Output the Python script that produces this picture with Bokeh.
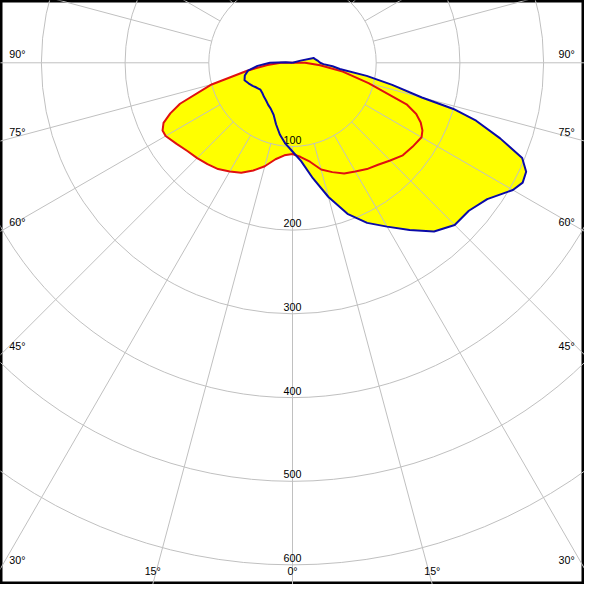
import numpy as np
from bokeh.plotting import figure
from bokeh.models import Range1d
from bokeh.core.properties import value
from bokeh.embed import file_html
from bokeh.resources import INLINE

# ---- data (cd/klm), gamma angle in degrees: 0 = straight down, + = right side
red_angles = [-180, -95, -90, -85, -80, -75, -70, -67.5, -65, -62.5, -60, -55, -50, -45, -40, -35,
              -30, -25, -20, -15, -10, -5, 0, 5, 10, 15, 20, 25, 30, 35, 40, 45, 50,
              55, 60, 62.5, 65, 67.5, 70, 75, 80, 85, 90, 95, 180]
red_values = [0, 0, 14, 30, 55, 100, 143, 158, 170, 175, 175, 169, 164, 161, 158, 155,
              150, 145, 137, 128, 117, 111, 109, 113, 120, 132, 139, 146, 150, 155, 159, 165, 172,
              175, 178, 175, 169, 160, 145, 94, 61, 33, 15, 0, 0]

blue_angles = [-180, -95, -90, -85, -80, -75, -70, -65, -60, -55, -50, -45, -40, -35,
               -30, -25, -20, -15, -10, -5, 0, 5, 10, 15, 20, 25, 30, 35, 40, 45, 50,
               55, 60, 62.5, 65, 67.5, 70, 72.5, 74, 75, 77.5, 80, 82.5, 85, 87.5, 90,
               95, 100, 102.5, 105, 110, 180]
blue_values = [0, 8, 27, 42, 54, 59, 61, 58, 55, 52, 50, 51, 53, 55,
               58, 61, 66, 76, 87, 97, 106, 118, 140, 166, 192, 211, 226, 244, 263, 274, 275,
               284, 304, 310, 308, 297, 264, 230, 200, 160, 122, 90, 57, 48, 37, 33,
               30, 27, 26, 10, 0, 0]

ring_values = [100, 200, 300, 400, 500, 600]
ring_labels = ["100", "200", "300", "400", "500", "600"]
spoke_angles = list(range(0, 360, 15))
side_label_angles = [90, 75, 60, 45, 30]
side_labels = ["90°", "75°", "60°", "45°", "30°"]
bottom_label_angles = [-15, 0, 15]
bottom_labels = ["15°", "0°", "15°"]

# ---- geometry
K = 0.86                      # reference pixels per cd/klm
XMIN, XMAX = -300 / K, 300 / K
YMIN, YMAX = -536 / K, 64 / K
SIZE = 584
FONT = value("Liberation Sans")
FSIZE = value("10.7px")
GRID = "#c0c0c0"


def polar(angles, vals):
    g = np.radians(np.asarray(angles, dtype=float))
    v = np.asarray(vals, dtype=float)
    return v * np.sin(g), -v * np.cos(g)


p = figure(width=SIZE, height=SIZE, x_range=Range1d(XMIN, XMAX), y_range=Range1d(YMIN, YMAX),
           x_axis_type=None, y_axis_type=None, output_backend="svg", toolbar_location=None,
           min_border=0, background_fill_color="white", border_fill_color="white",
           outline_line_color="black", outline_line_width=4)

rx, ry = polar(red_angles, red_values)
bx, by = polar(blue_angles, blue_values)

# yellow fill (union of both curves)
p.patch(rx, ry, fill_color="#ffff00", line_color=None)
p.patch(bx, by, fill_color="#ffff00", line_color=None)

# grid rings and spokes
p.circle(x=[0] * len(ring_values), y=[0] * len(ring_values), radius=ring_values,
         fill_color=None, line_color=GRID, line_width=1)
sa = np.radians(spoke_angles)
p.segment(x0=100 * np.sin(sa), y0=-100 * np.cos(sa), x1=2000 * np.sin(sa), y1=-2000 * np.cos(sa),
          line_color=GRID, line_width=1)

# ring labels
p.text(x=[0] * len(ring_values), y=[-r + 3 / K for r in ring_values], text=ring_labels,
       text_font=FONT, text_font_size=FSIZE, text_align="center", text_baseline="bottom",
       text_color="black")

# side labels
sla = np.radians(side_label_angles)
ys = [XMIN * np.cos(a) / np.sin(a) + 3 / K for a in sla]
p.text(x=[XMIN + 9 / K] * len(ys), y=ys, text=side_labels, text_font=FONT, text_font_size=FSIZE,
       text_align="left", text_baseline="bottom", text_color="black")
p.text(x=[XMAX - 10 / K] * len(ys), y=ys, text=side_labels, text_font=FONT, text_font_size=FSIZE,
       text_align="right", text_baseline="bottom", text_color="black")

# bottom labels
bla = np.radians(bottom_label_angles)
p.text(x=[-YMIN * np.tan(a) for a in bla], y=[YMIN + 8 / K] * len(bla), text=bottom_labels,
       text_font=FONT, text_font_size=FSIZE, text_align="center", text_baseline="bottom",
       text_color="black")

# curves
p.line(rx, ry, line_color="#e01010", line_width=2, line_join="round")
p.line(bx, by, line_color="#0a0aa8", line_width=2, line_join="round")

open("out.html", "w").write(file_html(p, INLINE))
